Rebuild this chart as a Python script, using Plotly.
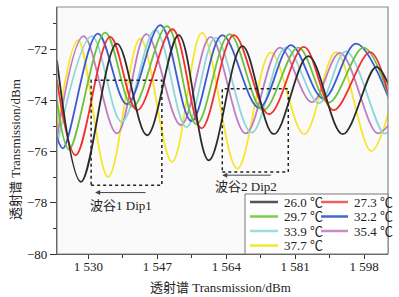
import plotly.graph_objects as go

# ---- data ----
names = ["26.0 ℃", "27.3 ℃", "29.7 ℃", "32.2 ℃", "33.9 ℃", "35.4 ℃", "37.7 ℃"]
colors = ["#2b2b2b", "#f03030", "#6cc13c", "#3a5ad0", "#8fd6dc", "#c07cc0", "#f6e62a"]
legend_colors = ["#555555", "#f06060", "#7ccc4c", "#4a66cc", "#9adce0", "#c88cc8", "#f6e62a"]

wl_26_0 = [1522.25, 1528.19, 1537.03, 1544.45, 1552.27, 1559.70, 1567.97, 1575.72, 1584.26, 1592.72, 1600.96, 1604.18]
tr_26_0 = [-72.43, -77.18, -71.78, -75.36, -71.45, -76.34, -71.88, -75.32, -72.27, -75.32, -72.69, -73.45]

wl_27_3 = [1522.25, 1526.88, 1535.37, 1542.05, 1550.72, 1557.89, 1565.89, 1574.55, 1583.14, 1590.44, 1599.48, 1604.18]
tr_27_3 = [-73.21, -76.14, -71.52, -74.38, -71.22, -75.09, -71.45, -74.54, -71.91, -74.38, -72.11, -73.88]

wl_29_7 = [1522.25, 1525.22, 1534.13, 1540.94, 1549.40, 1556.66, 1564.82, 1573.12, 1581.78, 1589.21, 1597.87, 1604.18]
tr_29_7 = [-73.99, -75.91, -71.35, -74.25, -71.10, -74.93, -71.41, -74.38, -71.94, -74.09, -71.94, -73.90]

wl_32_2 = [1522.25, 1523.74, 1532.32, 1539.50, 1547.74, 1555.42, 1563.02, 1572.08, 1579.92, 1587.97, 1596.01, 1604.18]
tr_32_2 = [-75.44, -75.87, -71.39, -74.15, -71.06, -74.81, -71.45, -74.29, -71.84, -73.93, -71.78, -73.95]

wl_33_9 = [1522.25, 1530.84, 1538.22, 1546.51, 1554.18, 1561.36, 1570.27, 1578.69, 1586.85, 1593.53, 1602.82, 1604.18]
tr_33_9 = [-75.75, -71.49, -74.85, -71.24, -75.05, -71.55, -75.26, -71.94, -74.11, -72.08, -75.29, -75.20]

wl_35_4 = [1522.25, 1528.81, 1537.03, 1544.28, 1552.82, 1560.12, 1568.78, 1577.20, 1585.12, 1592.05, 1601.21, 1604.18]
tr_35_4 = [-75.48, -71.49, -75.29, -71.41, -74.97, -71.52, -75.29, -71.94, -74.07, -72.14, -75.28, -74.93]

wl_37_7 = [1522.25, 1527.45, 1534.87, 1542.79, 1550.64, 1558.02, 1566.73, 1575.02, 1583.22, 1591.06, 1599.73, 1604.18]
tr_37_7 = [-75.16, -71.65, -76.99, -71.59, -76.40, -71.36, -76.66, -72.12, -75.32, -72.11, -75.98, -74.38]

x_tickvals = [1530, 1547, 1564, 1581, 1598]
x_ticktext = ["1 530", "1 547", "1 564", "1 581", "1 598"]
x_minor = [1521.5, 1538.5, 1555.5, 1572.5, 1589.5]
y_tickvals = [-80, -78, -76, -74, -72]
y_minor = [-79, -77, -75, -73, -71]

series_wl = [wl_26_0, wl_27_3, wl_29_7, wl_32_2, wl_33_9, wl_35_4, wl_37_7]
series_tr = [tr_26_0, tr_27_3, tr_29_7, tr_32_2, tr_33_9, tr_35_4, tr_37_7]

FONT = "Liberation Serif, Times New Roman, Noto Sans CJK SC, serif"

fig = go.Figure()
# draw from the last (yellow) to first (black) so black stays on top
for i in reversed(range(len(names))):
    fig.add_trace(go.Scatter(
        x=series_wl[i], y=series_tr[i], mode="lines", name=names[i],
        line=dict(color=colors[i], width=1.8, shape="spline", smoothing=1.0),
        showlegend=False, hoverinfo="skip"))

W, H = 399, 297
L, R, T, B = 57, 11, 7, 43
pw, ph = W - L - R, H - T - B


def px(xp):
    return (xp - L) / pw


def py(yp):
    return (H - B - yp) / ph


shapes = []
annotations = []

# dotted rectangles (dip regions)
shapes.append(dict(type="rect", xref="x", yref="y", x0=1530.67, x1=1548.12, y0=-77.31, y1=-73.21,
                   line=dict(color="#222222", width=1.5, dash="dot"), layer="above"))
shapes.append(dict(type="rect", xref="x", yref="y", x0=1563.02, x1=1579.30, y0=-76.80, y1=-73.54,
                   line=dict(color="#222222", width=1.5, dash="dot"), layer="above"))

# arrows
annotations.append(dict(x=1531.66, y=-77.60, ax=1544.45, ay=-77.60, xref="x", yref="y",
                        axref="x", ayref="y", text="", showarrow=True, arrowhead=2,
                        arrowsize=1, arrowwidth=1, arrowcolor="#444444"))
annotations.append(dict(x=1563.02, y=-76.92, ax=1575.39, ay=-76.92, xref="x", yref="y",
                        axref="x", ayref="y", text="", showarrow=True, arrowhead=2,
                        arrowsize=1, arrowwidth=1, arrowcolor="#444444"))
annotations.append(dict(x=1538.09, y=-78.09, xref="x", yref="y", text="波谷1 Dip1", showarrow=False,
                        xanchor="center", yanchor="middle",
                        font=dict(family=FONT, size=13, color="#222222")))
annotations.append(dict(x=1568.78, y=-77.35, xref="x", yref="y", text="波谷2 Dip2", showarrow=False,
                        xanchor="center", yanchor="middle",
                        font=dict(family=FONT, size=13, color="#222222")))

# axis titles
annotations.append(dict(x=px(220), y=py(287), xref="paper", yref="paper",
                        text="透射谱 Transmission/dBm", showarrow=False,
                        xanchor="center", yanchor="middle",
                        font=dict(family=FONT, size=13, color="#222222")))
annotations.append(dict(x=px(15), y=py(150), xref="paper", yref="paper",
                        text="透射谱 Transmission/dBm", showarrow=False, textangle=-90,
                        xanchor="center", yanchor="middle",
                        font=dict(family=FONT, size=13, color="#222222")))

# frame (grey top/right)
shapes.append(dict(type="rect", xref="paper", yref="paper", x0=0, x1=1, y0=0, y1=1,
                   line=dict(color="#8a8a8a", width=1.2), layer="above"))

# manual two-column legend
shapes.append(dict(type="rect", xref="paper", yref="paper", x0=px(245), x1=1, y0=0, y1=py(194),
                   line=dict(color="#777777", width=1), fillcolor="white", layer="above"))
rows_y = [202, 216.5, 231, 245.5]
cols = [(250, 278, 282), (321, 348, 352)]
for i, nm in enumerate(names):
    r, c = divmod(i, 2)
    x0, x1, xt = cols[c]
    yy = py(rows_y[r])
    shapes.append(dict(type="line", xref="paper", yref="paper", x0=px(x0), x1=px(x1), y0=yy, y1=yy,
                       line=dict(color=legend_colors[i], width=2.5), layer="above"))
    annotations.append(dict(x=px(xt), y=yy, xref="paper", yref="paper", text=nm, showarrow=False,
                            xanchor="left", yanchor="middle",
                            font=dict(family=FONT, size=13, color="#222222")))

fig.update_layout(
    width=W, height=H,
    margin=dict(l=L, r=R, t=T, b=B, autoexpand=False),
    paper_bgcolor="white", plot_bgcolor="#fafafa",
    showlegend=False,
    shapes=shapes, annotations=annotations,
    font=dict(family=FONT, size=13, color="#222222"),
)
fig.update_xaxes(range=[1522.25, 1603.9], tickmode="array", tickvals=x_tickvals, ticktext=x_ticktext,
                 ticks="outside", ticklen=4, tickcolor="#333333", showgrid=False, zeroline=False,
                 showline=True, linecolor="#333333", linewidth=1.3, automargin=False,
                 ticklabelstandoff=-4,
                 tickfont=dict(family=FONT, size=13, color="#222222"),
                 minor=dict(tickvals=x_minor, ticks="outside", ticklen=3, tickcolor="#333333", showgrid=False))
fig.update_yaxes(range=[-80, -70.35], tickmode="array", tickvals=y_tickvals,
                 ticks="outside", ticklen=6, tickcolor="#333333", showgrid=False, zeroline=False,
                 showline=True, linecolor="#333333", linewidth=1.3, automargin=False,
                 tickfont=dict(family=FONT, size=13, color="#222222"),
                 minor=dict(tickvals=y_minor, ticks="outside", ticklen=3, tickcolor="#333333", showgrid=False))

fig.write_html("out.html", config={"displayModeBar": False},
               post_script="document.body.style.margin='0px';document.body.style.overflow='hidden';")
